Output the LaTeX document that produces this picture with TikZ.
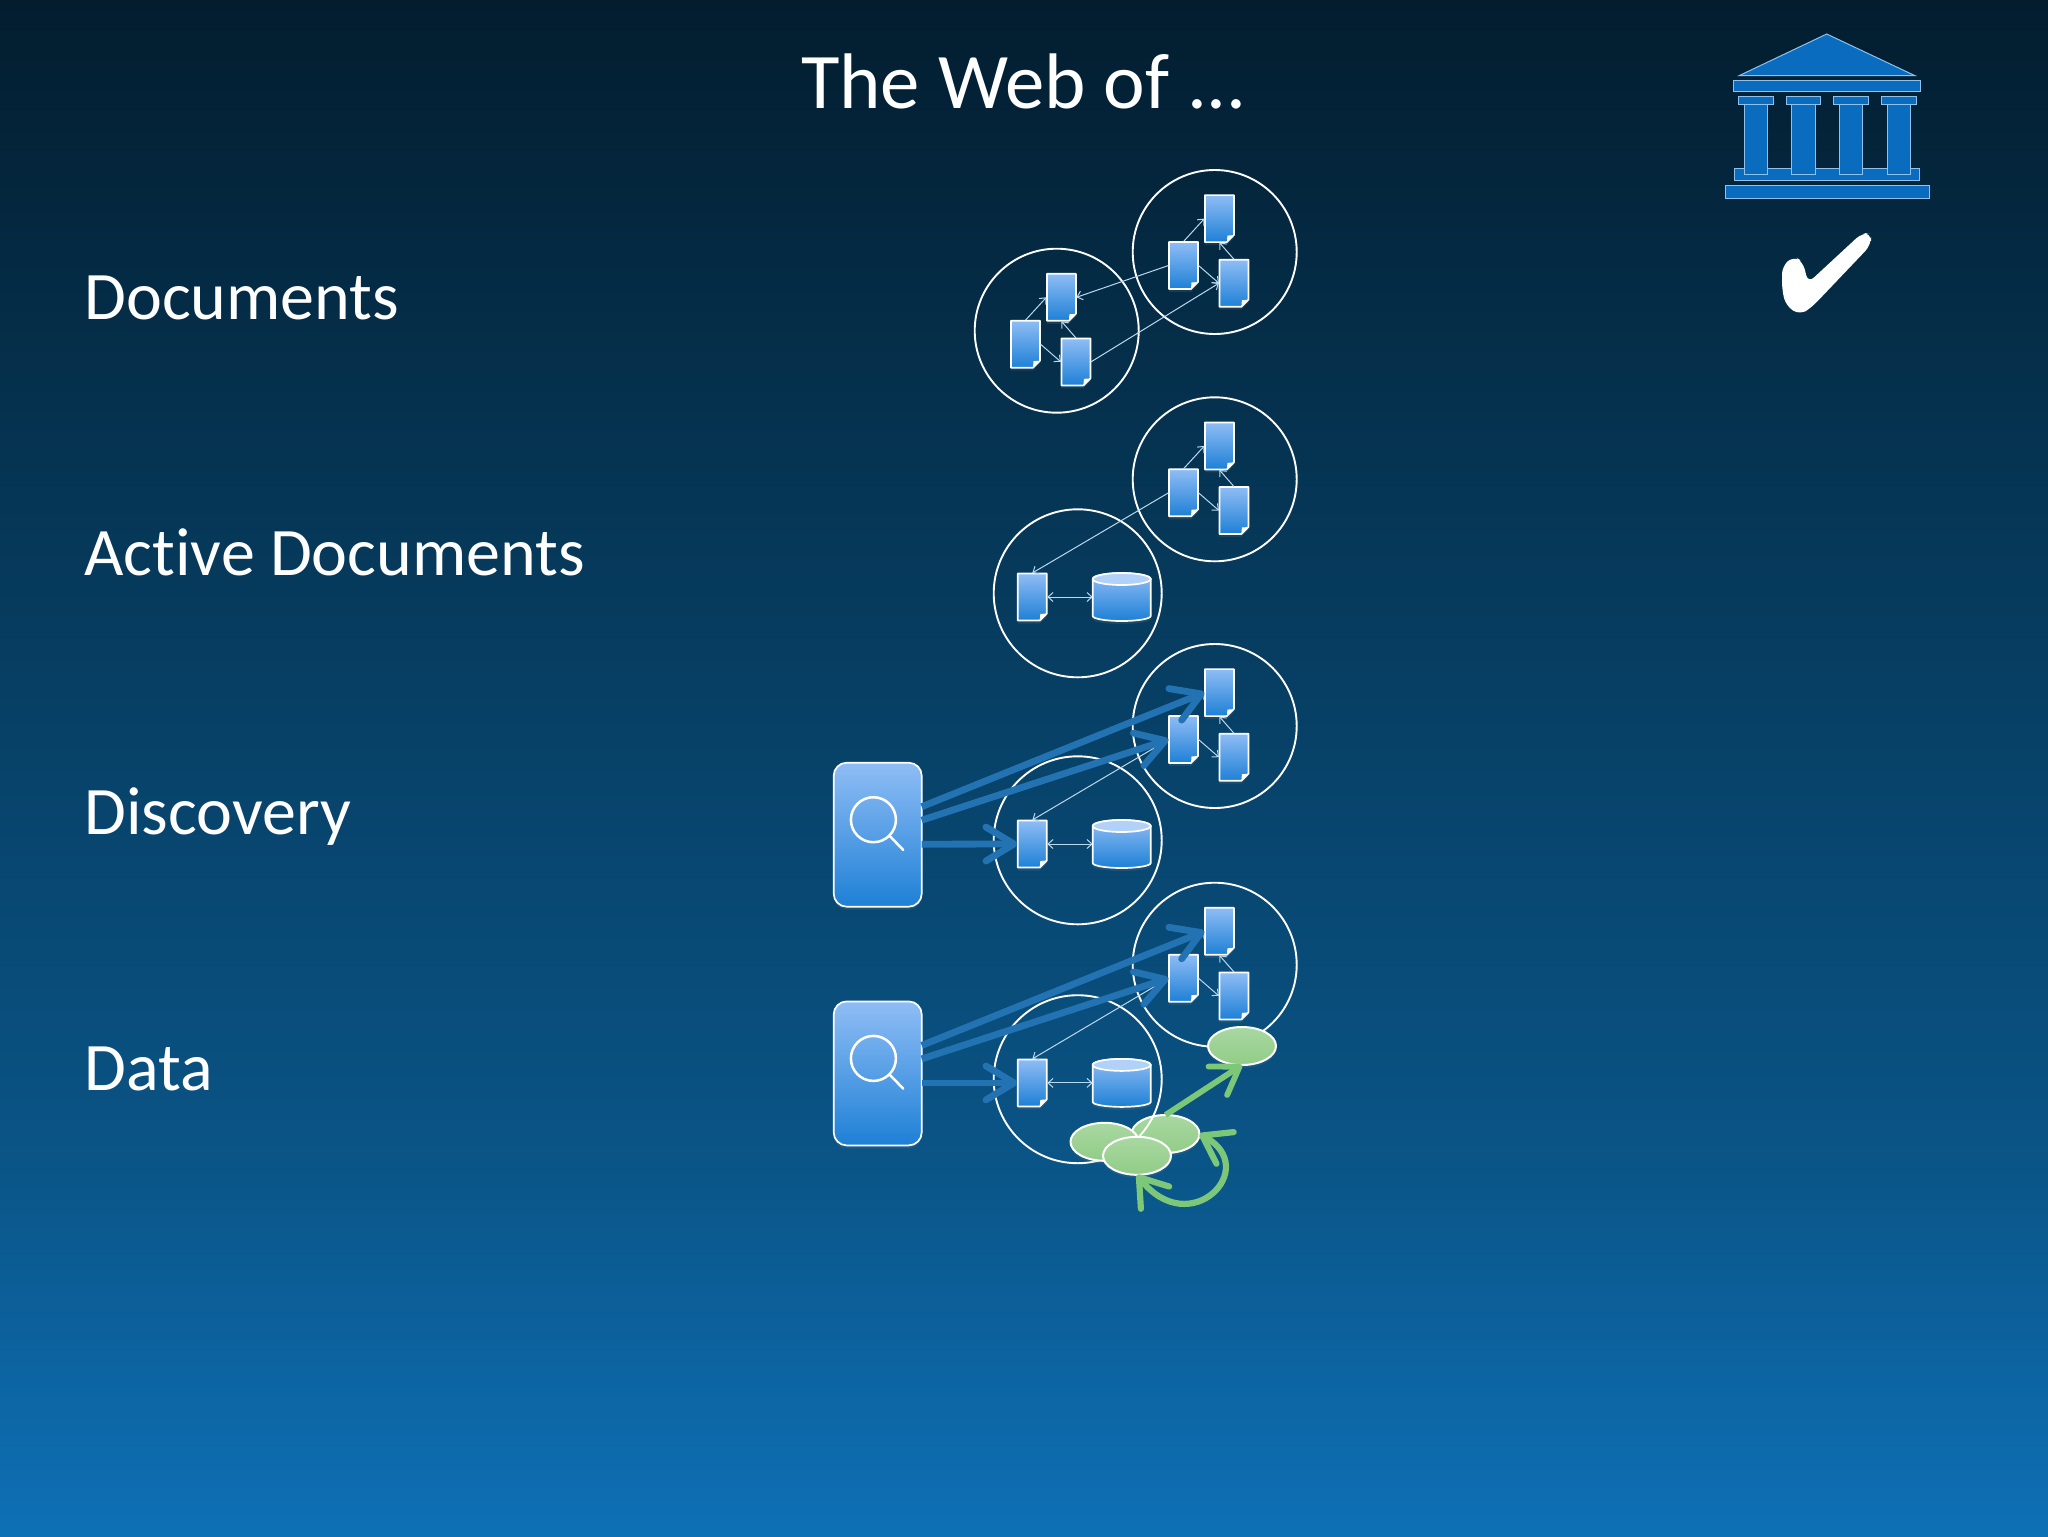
\documentclass[tikz,border=0pt]{standalone}
\usepackage{fontspec}
\setmainfont[Ligatures=CommonOff]{Carlito}
\usetikzlibrary{arrows.meta,calc,shapes.geometric,shadows}
\definecolor{bgA}{HTML}{031D2F}
\definecolor{bgB}{HTML}{063A5C}
\definecolor{bgC}{HTML}{0A5486}
\definecolor{bgD}{HTML}{0E70B6}
\definecolor{blueT}{HTML}{8FBDF5}
\definecolor{blueB}{HTML}{1E80D6}
\definecolor{arrowblue}{HTML}{2373B3}
\definecolor{arrowgreen}{HTML}{7CC878}
\definecolor{greenT}{HTML}{A9D8A2}
\definecolor{greenB}{HTML}{92CC86}
\definecolor{templefill}{HTML}{0A6CBE}
\definecolor{templeline}{HTML}{8EC2EC}
\definecolor{linkline}{HTML}{BBD8EE}
\pgfdeclareverticalshading{slidebg}{100bp}{color(0bp)=(bgD); color(25bp)=(bgD); color(37.5bp)=(bgC); color(56bp)=(bgB); color(75bp)=(bgA); color(100bp)=(bgA)}
\tikzset{
  softshadow/.style={drop shadow={opacity=.18,shadow xshift=0pt,shadow yshift=-1.5pt}},
  docanchor/.style={rectangle,minimum width=15pt,minimum height=24pt,inner sep=0pt,outer sep=0pt},
  docshape/.style={draw=white,line width=.85pt,line join=round,top color=blueT,bottom color=blueB,softshadow},
  dbbox/.style={rectangle,minimum width=29pt,minimum height=24pt,inner sep=0pt,outer sep=0pt},
  site/.style={circle,draw=white,line width=.95pt,minimum size=82pt,inner sep=0pt,outer sep=0pt},
  sitewide/.style={circle,draw=white,line width=.95pt,minimum size=84pt,inner sep=0pt,outer sep=0pt},
  linkarrow/.style={draw=linkline,line width=.5pt,-{Straight Barb[length=2.5pt,width=4.5pt]}},
  linkboth/.style={draw=linkline,line width=.5pt,{Straight Barb[length=2.5pt,width=4.5pt]}-{Straight Barb[length=2.5pt,width=4.5pt]}},
  bigblue/.style={draw=arrowblue,line width=3.4pt,-{Straight Barb[length=14pt,width=17pt,round]}},
  biggreen/.style={draw=arrowgreen,line width=2.9pt,-{Straight Barb[length=13pt,width=17pt,round]}},
  biggreenboth/.style={draw=arrowgreen,line width=3.1pt,{Straight Barb[length=13pt,width=18pt,round]}-{Straight Barb[length=13pt,width=18pt,round]}},
  searchbox/.style={rectangle,rounded corners=6.5pt,minimum width=44pt,minimum height=72pt,inner sep=0pt,outer sep=0pt,draw=white,line width=.85pt,top color=blueT,bottom color=blueB,softshadow},
  blob/.style={ellipse,minimum width=34pt,minimum height=19pt,inner sep=0pt,outer sep=0pt,draw=white,line width=1pt,top color=greenT,bottom color=greenB,softshadow},
  temple/.style={fill=templefill,draw=templeline,line width=.5pt},
  slidetext/.style={text=white,anchor=base west,font=\fontsize{34pt}{40pt}\selectfont,inner sep=0pt},
  slidetitle/.style={text=white,anchor=base,font=\fontsize{39.4pt}{46pt}\selectfont,inner sep=0pt}
}
% a single document with a folded corner
\newcommand{\docnode}[3]{%
  \node[docanchor] (#1) at (#2,#3) {};
  \draw[docshape] ($(#1.center)+(-14.5,-23.5)$) -- ($(#1.center)+(14.5,-23.5)$) -- ($(#1.center)+(14.5,16.5)$) -- ($(#1.center)+(7.5,23.5)$) -- ($(#1.center)+(-14.5,23.5)$) -- cycle;
  \fill[white] ($(#1.center)+(7.5,23.5)$) -- ($(#1.center)+(14.5,16.5)$) -- ($(#1.center)+(8,17)$) -- cycle;
}
% a site with three linked documents
\newcommand{\threedocs}[3]{%
  \node[site] (#1site) at (#2,#3) {};
  \docnode{#1a}{#2+4.7}{#3-33.4}
  \docnode{#1b}{#2-31.2}{#3+13.5}
  \docnode{#1c}{#2+19.2}{#3+31.2}
  \draw[linkarrow] (#1b.north) -- (#1a.west);
  \draw[linkarrow] (#1c.north) -- (#1a.south);
  \draw[linkarrow] (#1b.east) -- (#1c.west);
}
% a site with a document and a database
\newcommand{\dbsite}[3]{%
  \node[sitewide] (#1site) at (#2,#3) {};
  \docnode{#1d}{#2-45.4}{#3+3.7}
  \node[dbbox] (#1db) at (#2+44,#3+3.7) {};
  \draw[white,line width=.85pt,top color=blueT,bottom color=blueB,softshadow]
    ($(#1db.center)+(-29,-18)$) -- ($(#1db.center)+(-29,19)$) arc[start angle=180,end angle=360,x radius=14.5pt,y radius=2.5pt]
    -- ($(#1db.center)+(29,-18)$) arc[start angle=0,end angle=180,x radius=14.5pt,y radius=3pt] -- cycle;
  \draw[white,line width=.85pt,fill=blueT!70!white] ($(#1db.center)+(0,-18)$) ellipse[x radius=14.5pt,y radius=3pt];
  \draw[linkboth] (#1d.east) -- (#1db.west);
}
% the search engine
\newcommand{\searchnode}[3]{%
  \node[searchbox] (#1) at (#2,#3) {};
  \node[circle,draw=white,line width=1.25pt,minimum size=22.5pt,inner sep=0pt,outer sep=0pt] (#1lens) at (#2-4.3,#3-15) {};
  \coordinate (#1handle) at (#2+25.6,#3+15.3);
  \draw[white,line width=1.25pt,line cap=round] (#1lens.-45) -- (#1handle);
}
\newcommand{\searcharrows}[1]{%
  \draw[bigblue] ($(#1.east)+(0,-28)$) -- (#1upa.west);
  \draw[bigblue] ($(#1.east)+(0,-14.5)$) -- (#1upb.west);
  \draw[bigblue] ($(#1.east)+(0,9.5)$) -- (#1lod.west);
}
\begin{document}
\begin{tikzpicture}[x=.5pt,y=-.5pt]
\useasboundingbox (0,0) rectangle (2048,1536);
\shade[shading=slidebg] (0,0) rectangle (2048,1536);

\node[slidetitle] (title) at (1024,109) {The Web of ...};
\node[slidetext] (l1) at (84,319) {Documents};
\node[slidetext] (l2) at (84,575) {Active Documents};
\node[slidetext] (l3) at (84,834) {Discovery};
\node[slidetext] (l4) at (84,1090) {Data};

% row 1
\threedocs{ra}{1214.7}{252}
\threedocs{rb}{1056.7}{330.7}
\draw[linkarrow] (rab.west) -- (rba.east);
\draw[linkarrow] (rbc.east) -- (rac.west);

% row 2
\threedocs{sa}{1214.7}{479.3}
\dbsite{sb}{1077.7}{593.3}
\draw[linkarrow] (sab.west) -- (sbd.north);

% row 3
\threedocs{tup}{1214.7}{726}
\dbsite{tlo}{1077.7}{840.3}
\draw[linkarrow] (tupb.west) -- (tlod.north);
\searchnode{t}{877.7}{834.7}
\searcharrows{t}

% row 4
\node[blob] (gb) at (1165.5,1134) {};
\threedocs{uup}{1214.7}{964.7}
\dbsite{ulo}{1077.7}{1079.2}
\draw[linkarrow] (uupb.west) -- (ulod.north);
\searchnode{u}{877.7}{1073.4}
\searcharrows{u}
\node[blob] (gt) at (1242,1046) {};
\node[blob] (gl) at (1104.5,1141.8) {};
\node[blob] (gf) at (1137,1155.8) {};
\draw[biggreen] (gb.north) -- (gt.south);
\draw[biggreenboth] (gb.east) .. controls (1262,1168) and (1190,1242) .. (gf.south);

% temple
\path[temple] (1739,75.7) -- (1826.7,34) -- (1915,75.7) -- cycle;
\path[temple] (1733.3,81) rectangle (1920.7,91.7);
\path[temple] (1734.3,168) rectangle (1919.7,180.7);
\path[temple] (1725.3,185.7) rectangle (1929,198);
\path[temple] (1738.3,96.7) rectangle (1773,105);
\path[temple] (1786,96.7) rectangle (1820.7,105);
\path[temple] (1833.7,96.7) rectangle (1868.3,105);
\path[temple] (1881.3,96.7) rectangle (1916,105);
\path[temple] (1744.3,105) rectangle (1767.7,174.7);
\path[temple] (1791.7,105) rectangle (1815,174.7);
\path[temple] (1839.3,105) rectangle (1862.7,174.7);
\path[temple] (1887,105) rectangle (1910.3,174.7);

% check mark
\fill[white,rounded corners=4pt] (1871,233) -- (1862,233) -- (1808,283) -- (1803,262) -- (1794,256) -- (1782,266) -- (1782,290) -- (1786,306) -- (1800,315) -- (1812,307) -- (1871,245) -- cycle;
\end{tikzpicture}
\end{document}
